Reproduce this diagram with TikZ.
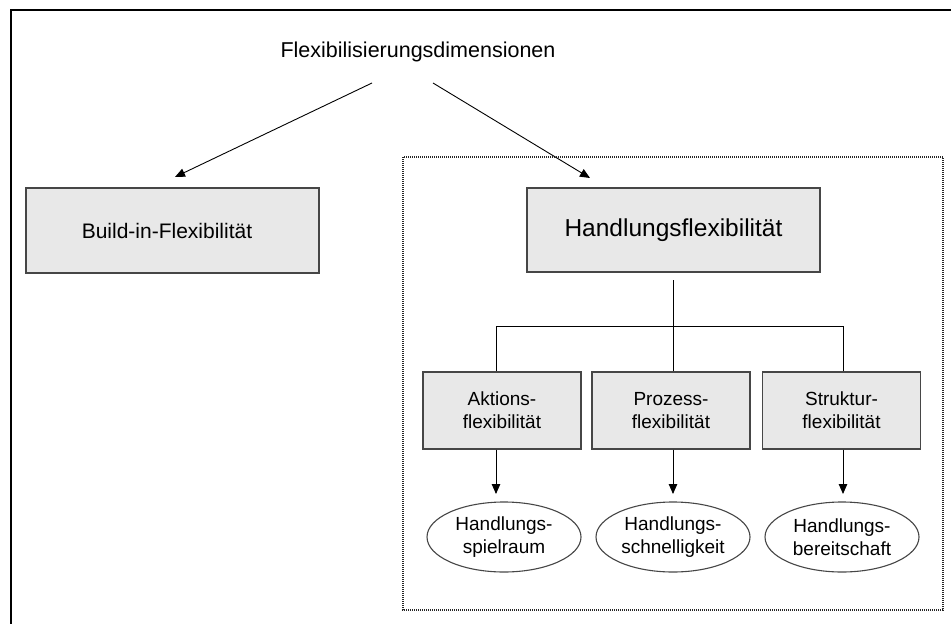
\documentclass[tikz,border=0pt]{standalone}
\usepackage{fontspec}
\setmainfont{Liberation Sans}
\usetikzlibrary{arrows.meta,shapes.geometric}
\definecolor{boxfill}{RGB}{232,232,232}
\definecolor{boxline}{RGB}{70,70,70}
\tikzset{
  box/.style={draw=boxline, fill=boxfill, line width=1.1pt, inner sep=0pt, align=center},
  oval/.style={ellipse, draw=boxline, line width=1.1pt, inner sep=0pt, align=center,
               minimum width=154pt, minimum height=70pt},
  conn/.style={line width=0.9pt, black},
  arr/.style={conn, -{Triangle[length=10pt,width=8.5pt]}},
  small/.style={font=\fontsize{19}{23}\selectfont}
}
\begin{document}
\begin{tikzpicture}[x=1pt,y=-1pt]
  \useasboundingbox (0,0) rectangle (951,624);
  % outer frame (left and top edges)
  \draw[line width=2.8pt] (11,624) -- (11,10) -- (951,10);
  % grouping frame around the action flexibility branch
  \draw[line width=1.2pt, dash pattern=on 1pt off 1pt, black!85] (403,157) rectangle (943,610);

  % title
  \node[font=\fontsize{21.5}{24}\selectfont] (title) at (418,52) {Flexibilisierungsdimensionen};

  % top level boxes
  \node[box, minimum width=293pt, minimum height=85pt] (build) at (172.5,230.5) {};
  \node[font=\fontsize{21}{24}\selectfont] (buildtext) at (167,231) {Build-in-Flexibilität};
  \node[box, minimum width=293pt, minimum height=84pt, font=\fontsize{24.5}{28}\selectfont]
    (hf) at (673.5,230) {Handlungsflexibilität};

  % second level boxes
  \node[box, small, minimum width=158pt, minimum height=77pt] (ak) at (502,410.5) {Aktions-\\flexibilität};
  \node[box, small, minimum width=158pt, minimum height=77pt] (pr) at (671,410.5) {Prozess-\\flexibilität};
  \node[box, small, minimum width=158pt, minimum height=77pt] (st) at (841.5,410.5) {Struktur-\\flexibilität};

  % ovals
  \node[oval, small] (sp) at (504,537) {Handlungs-\\spielraum};
  \node[oval, small] (sc) at (673,537) {Handlungs-\\schnelligkeit};
  \node[oval, small] (be) at (842,537) {Handlungs-\\bereitschaft};

  % arrows from the title
  \coordinate (tl) at (372,83);
  \coordinate (tr) at (433,83);
  \coordinate (bl) at (175,177);
  \coordinate (hr) at (590,178);
  \draw[arr] (tl) -- (bl);
  \draw[arr] (tr) -- (hr);

  % tree below Handlungsflexibilität
  \coordinate (hfb) at (673,280);
  \coordinate (bus) at (673,326);
  \coordinate (busl) at (496,326);
  \coordinate (busr) at (843,326);
  \draw[conn] (hfb) -- (bus);
  \draw[conn] (busl) -- (busr);
  \draw[conn] (busl) -- (busl |- ak.north);
  \draw[conn] (bus) -- (bus |- pr.north);
  \draw[conn] (busr) -- (busr |- st.north);

  % arrows to the ovals
  \draw[arr] (busl |- ak.south) -- (496,494);
  \draw[arr] (bus |- pr.south) -- (673,494);
  \draw[arr] (busr |- st.south) -- (843,494);
\end{tikzpicture}
\end{document}
